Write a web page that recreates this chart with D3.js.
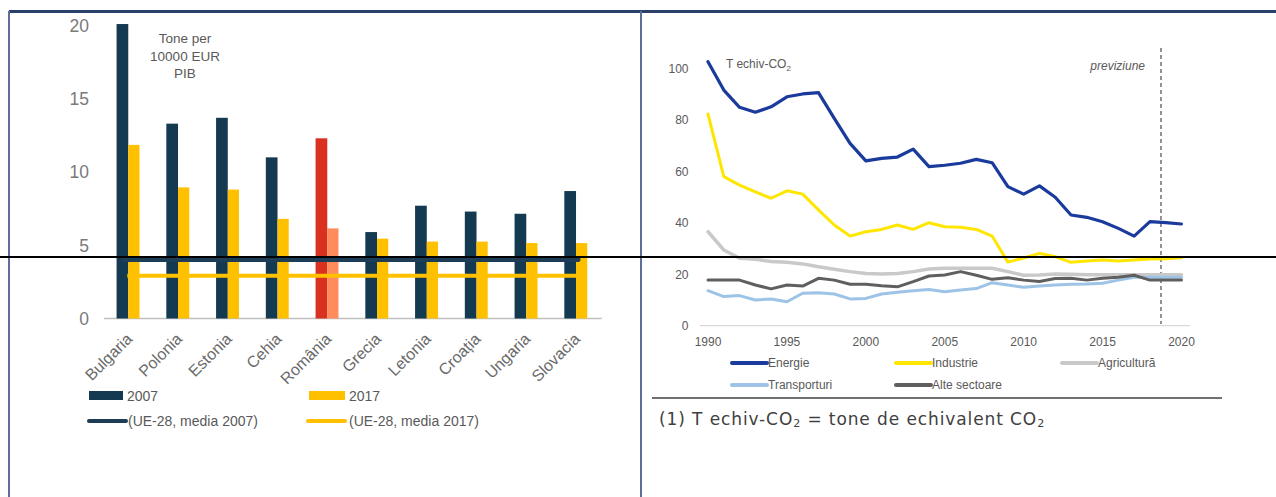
<!DOCTYPE html>
<html>
<head>
<meta charset="utf-8">
<script src="https://cdn.jsdelivr.net/npm/d3@7"></script>
<style>
  html, body { margin: 0; padding: 0; background: #fff; }
  svg { display: block; }
</style>
</head>
<body>
<svg id="chart" width="1276" height="497"></svg>
<script>
// ---- Left panel: emission intensity by country ----
const countries = ["Bulgaria", "Polonia", "Estonia", "Cehia", "România", "Grecia", "Letonia", "Croația", "Ungaria", "Slovacia"];
const values2007 = [20.1, 13.3, 13.7, 11.0, 12.3, 5.9, 7.7, 7.3, 7.15, 8.7];
const values2017 = [11.85, 8.95, 8.8, 6.8, 6.15, 5.45, 5.25, 5.25, 5.15, 5.15];
const euMean2007 = 4.03;
const euMean2017 = 2.92;
const leftTicks = [0, 5, 10, 15, 20];
const highlightCountry = "România";

// ---- Right panel: emissions by sector ----
const years = d3.range(1990, 2021);
const energie = [102.5, 91.5, 84.8, 82.9, 85, 88.9, 90, 90.5, 80.5, 70.8, 64, 65, 65.5, 68.6, 61.8, 62.3, 63.1, 64.6, 63.3, 54, 51.1, 54.3, 49.9, 43, 42.1, 40.4, 37.8, 34.8, 40.4, 40, 39.5];
const industrie = [82.2, 57.9, 54.6, 52, 49.5, 52.4, 51.1, 45, 39.1, 34.8, 36.5, 37.4, 39.1, 37.4, 40, 38.4, 38.2, 37.4, 34.8, 24.7, 26.3, 28.1, 26.8, 24.6, 25.1, 25.5, 25.1, 25.5, 25.9, 26, 26.4];
const agricultura = [36.5, 29.4, 26.2, 25.8, 24.9, 24.6, 24, 22.9, 21.9, 21, 20.3, 20.1, 20.3, 21, 22, 22.3, 22.3, 22.3, 22.3, 21, 19.6, 19.7, 20.1, 20, 19.8, 19.8, 19.8, 19.8, 19.8, 19.8, 19.8];
const transporturi = [13.6, 11.3, 11.7, 10, 10.4, 9.3, 12.6, 12.8, 12.3, 10.4, 10.6, 12.3, 13, 13.6, 14.1, 13.2, 13.9, 14.4, 16.7, 15.8, 14.9, 15.4, 15.8, 16.1, 16.2, 16.5, 17.7, 18.8, 18.8, 18.8, 18.8];
const alteSectoare = [17.7, 17.7, 17.7, 15.8, 14.3, 15.8, 15.4, 18.4, 17.7, 16.1, 16.1, 15.5, 15.1, 17.1, 19.3, 19.7, 21, 19.6, 18, 18.6, 17.7, 17.2, 18.3, 18.4, 17.7, 18.4, 18.8, 19.6, 17.7, 17.7, 17.7];
const sectorNames = ["Energie", "Industrie", "Agricultură", "Transporturi", "Alte sectoare"];
const rightYTicks = [0, 20, 40, 60, 80, 100];
const rightXTicks = [1990, 1995, 2000, 2005, 2010, 2015, 2020];
const forecastStart = 2018.7;

const svg = d3.select("#chart");
const FONT = "'Liberation Sans', Arial, sans-serif";

// ---------- Left panel ----------
const xL = d3.scaleBand().domain(countries).range([103.4, 600.9]).padding(0);
const yL = d3.scaleLinear().domain([0, 20]).range([318.5, 25.5]);
const barW = 11.7;
const left = svg.append("g");

// y tick labels
left.selectAll("text.ytick").data(leftTicks).join("text")
  .attr("class", "ytick")
  .attr("x", 89).attr("y", d => yL(d))
  .attr("dy", "0.36em")
  .attr("text-anchor", "end")
  .attr("font-family", FONT).attr("font-size", 17.5)
  .attr("fill", "#7a7a7a")
  .text(d => d);

// baseline
left.append("line")
  .attr("x1", 104).attr("x2", 601.7)
  .attr("y1", yL(0)).attr("y2", yL(0))
  .attr("stroke", "#bfbfbf").attr("stroke-width", 1.5);

// bars
const groups = left.selectAll("g.grp").data(countries).join("g").attr("class", "grp");
groups.append("rect")
  .attr("x", d => xL(d) + xL.bandwidth() / 2 - barW)
  .attr("width", barW)
  .attr("y", (d, i) => yL(values2007[i]))
  .attr("height", (d, i) => yL(0) - yL(values2007[i]))
  .attr("fill", d => d === highlightCountry ? "#d9301f" : "#143a52");
groups.append("rect")
  .attr("x", d => xL(d) + xL.bandwidth() / 2)
  .attr("width", barW - 0.5)
  .attr("y", (d, i) => yL(values2017[i]))
  .attr("height", (d, i) => yL(0) - yL(values2017[i]))
  .attr("fill", d => d === highlightCountry ? "#ff8c5a" : "#ffc000");

// EU averages
const lineX1 = xL(countries[0]) + xL.bandwidth() / 2 - 5;
const lineX2 = xL(countries[countries.length - 1]) + xL.bandwidth() / 2 + 2;
left.append("line")
  .attr("x1", lineX1).attr("x2", lineX2)
  .attr("y1", yL(euMean2007)).attr("y2", yL(euMean2007))
  .attr("stroke", "#1c3d55").attr("stroke-width", 5).attr("stroke-linecap", "round");
left.append("line")
  .attr("x1", lineX1 + 4).attr("x2", lineX2 - 2)
  .attr("y1", yL(euMean2017)).attr("y2", yL(euMean2017))
  .attr("stroke", "#ffc000").attr("stroke-width", 4);

// unit label
const unit = left.append("text")
  .attr("text-anchor", "middle")
  .attr("font-family", FONT).attr("font-size", 13.5)
  .attr("fill", "#595959");
["Tone per", "10000 EUR", "PIB"].forEach((t, i) => {
  unit.append("tspan").attr("x", 185).attr("y", 43 + i * 17.5).text(t);
});

// category labels
left.selectAll("text.xlab").data(countries).join("text")
  .attr("class", "xlab")
  .attr("transform", d => `translate(${xL(d) + xL.bandwidth() / 2 + 5},${340}) rotate(-45)`)
  .attr("text-anchor", "end")
  .attr("font-family", FONT).attr("font-size", 16)
  .attr("fill", "#6a6a6a")
  .text(d => d);

// legend
const legL = left.append("g").attr("font-family", FONT).attr("font-size", 14).attr("fill", "#595959");
legL.append("rect").attr("x", 89).attr("y", 391).attr("width", 34).attr("height", 9).attr("fill", "#143a52");
legL.append("text").attr("x", 127).attr("y", 396).attr("dy", "0.36em").text("2007");
legL.append("rect").attr("x", 309).attr("y", 391).attr("width", 36).attr("height", 9).attr("fill", "#ffc000");
legL.append("text").attr("x", 349).attr("y", 396).attr("dy", "0.36em").text("2017");
legL.append("line").attr("x1", 89).attr("x2", 126).attr("y1", 421).attr("y2", 421)
  .attr("stroke", "#1c3d55").attr("stroke-width", 4).attr("stroke-linecap", "round");
legL.append("text").attr("x", 128).attr("y", 421).attr("dy", "0.36em").text("(UE-28, media 2007)");
legL.append("line").attr("x1", 308).attr("x2", 345).attr("y1", 421).attr("y2", 421)
  .attr("stroke", "#ffc000").attr("stroke-width", 4).attr("stroke-linecap", "round");
legL.append("text").attr("x", 349).attr("y", 421).attr("dy", "0.36em").text("(UE-28, media 2017)");

// ---------- Right panel ----------
const xR = d3.scaleLinear().domain([1990, 2020]).range([708, 1181.5]);
const yR = d3.scaleLinear().domain([0, 100]).range([325.7, 68.2]);
const right = svg.append("g");

right.selectAll("text.ytick").data(rightYTicks).join("text")
  .attr("class", "ytick")
  .attr("x", 688.5).attr("y", d => yR(d))
  .attr("dy", "0.36em").attr("text-anchor", "end")
  .attr("font-family", FONT).attr("font-size", 12)
  .attr("fill", "#595959")
  .text(d => d);

right.append("line")
  .attr("x1", 700).attr("x2", 1190)
  .attr("y1", yR(0)).attr("y2", yR(0))
  .attr("stroke", "#d9d9d9").attr("stroke-width", 1.2);

right.selectAll("text.xtick").data(rightXTicks).join("text")
  .attr("class", "xtick")
  .attr("x", d => xR(d)).attr("y", 342)
  .attr("dy", "0.36em").attr("text-anchor", "middle")
  .attr("font-family", FONT).attr("font-size", 12)
  .attr("fill", "#595959")
  .text(d => d);

// forecast divider
right.append("line")
  .attr("x1", xR(forecastStart)).attr("x2", xR(forecastStart))
  .attr("y1", 48).attr("y2", 324)
  .attr("stroke", "#595959").attr("stroke-width", 1.3)
  .attr("stroke-dasharray", "4,3");
right.append("text")
  .attr("x", 1145).attr("y", 66).attr("dy", "0.36em")
  .attr("text-anchor", "end")
  .attr("font-family", FONT).attr("font-size", 12).attr("font-style", "italic")
  .attr("fill", "#595959")
  .text("previziune");

// unit label
const unitR = right.append("text")
  .attr("x", 726).attr("y", 68)
  .attr("font-family", FONT).attr("font-size", 12)
  .attr("fill", "#595959");
unitR.append("tspan").text("T echiv-CO");
unitR.append("tspan").attr("font-size", 8).attr("dy", 3).text("2");

const series = [
  { name: sectorNames[2], values: agricultura, color: "#c9c9c9", width: 3.5 },
  { name: sectorNames[3], values: transporturi, color: "#9dc3e6", width: 3 },
  { name: sectorNames[4], values: alteSectoare, color: "#5f5f5f", width: 3 },
  { name: sectorNames[1], values: industrie, color: "#ffe600", width: 3 },
  { name: sectorNames[0], values: energie, color: "#1a3a9c", width: 3.2 }
];
const line = d3.line().x(d => xR(d[0])).y(d => yR(d[1])).curve(d3.curveLinear);
right.selectAll("path.series").data(series).join("path")
  .attr("class", "series")
  .attr("d", s => line(years.map((y, i) => [y, s.values[i]])))
  .attr("fill", "none")
  .attr("stroke", s => s.color)
  .attr("stroke-width", s => s.width)
  .attr("stroke-linejoin", "round")
  .attr("stroke-linecap", "round");

// legend
const legendItems = [
  { name: sectorNames[0], color: "#1a3a9c", x: 732, y: 363 },
  { name: sectorNames[1], color: "#ffe600", x: 896, y: 363 },
  { name: sectorNames[2], color: "#c9c9c9", x: 1062, y: 363 },
  { name: sectorNames[3], color: "#9dc3e6", x: 732, y: 385 },
  { name: sectorNames[4], color: "#5f5f5f", x: 896, y: 385 }
];
const legR = right.selectAll("g.leg").data(legendItems).join("g").attr("class", "leg");
legR.append("line")
  .attr("x1", d => d.x).attr("x2", d => d.x + 35)
  .attr("y1", d => d.y).attr("y2", d => d.y)
  .attr("stroke", d => d.color).attr("stroke-width", 4).attr("stroke-linecap", "round");
legR.append("text")
  .attr("x", d => d.x + 36).attr("y", d => d.y).attr("dy", "0.36em")
  .attr("font-family", FONT).attr("font-size", 12).attr("fill", "#595959")
  .text(d => d.name);

// footnote
right.append("line")
  .attr("x1", 652).attr("x2", 1222).attr("y1", 398).attr("y2", 398)
  .attr("stroke", "#404040").attr("stroke-width", 1.3);
const note = right.append("text")
  .attr("x", 659).attr("y", 425)
  .attr("font-family", "'DejaVu Sans', sans-serif").attr("font-size", 17)
  .attr("letter-spacing", 0.9)
  .attr("fill", "#404040");
note.append("tspan").text("(1) T echiv-CO");
note.append("tspan").attr("font-size", 11).attr("dy", 2).text("2");
note.append("tspan").attr("dy", -2).text(" = tone de echivalent CO");
note.append("tspan").attr("font-size", 11).attr("dy", 2).text("2");

// ---------- Frame ----------
svg.append("line").attr("x1", 9).attr("x2", 1276).attr("y1", 11.5).attr("y2", 11.5)
  .attr("stroke", "#2a3f6a").attr("stroke-width", 3);
svg.append("line").attr("x1", 9).attr("x2", 9).attr("y1", 11).attr("y2", 497)
  .attr("stroke", "#5b6f9a").attr("stroke-width", 2);
svg.append("line").attr("x1", 641).attr("x2", 641).attr("y1", 11).attr("y2", 497)
  .attr("stroke", "#5b6f9a").attr("stroke-width", 2);
svg.append("line").attr("x1", 0).attr("x2", 1276).attr("y1", 257).attr("y2", 257)
  .attr("stroke", "#000").attr("stroke-width", 2);
</script>
</body>
</html>
